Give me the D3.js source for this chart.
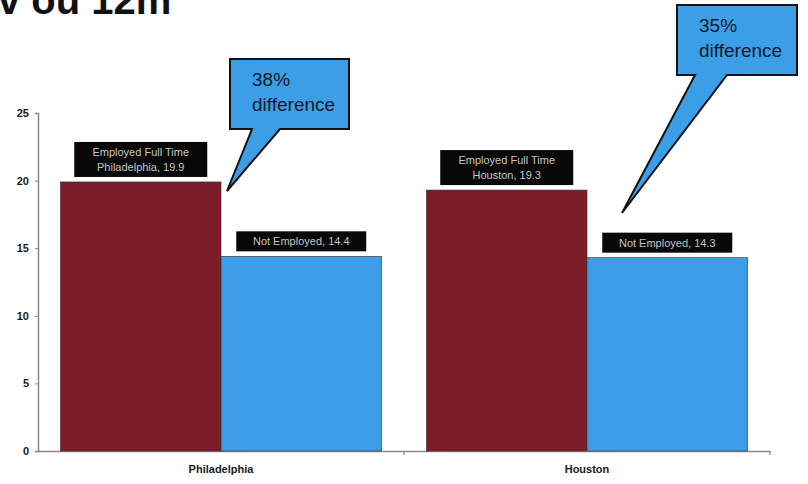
<!DOCTYPE html>
<html>
<head>
<meta charset="utf-8">
<script src="https://cdn.jsdelivr.net/npm/d3@7"></script>
<style>
  html, body { margin: 0; padding: 0; background: #fff; }
  svg { display: block; }
  text { font-family: "Liberation Sans", Arial, sans-serif; }
</style>
</head>
<body>
<svg id="chart" width="808" height="484"></svg>
<script>
// Cities, series and values
const cities = ["Philadelphia", "Houston"];
const seriesNames = ["Employed Full Time", "Not Employed"];
const employedFullTime = [19.9, 19.3];
const notEmployed = [14.4, 14.3];
const yTicks = [0, 5, 10, 15, 20, 25];
const differences = ["38%", "35%"];

const seriesColors = ["#7c1d29", "#3e9de9"];

const svg = d3.select("#chart");

// Title line, mostly above the top edge of the canvas
svg.append("text")
  .attr("x", -2).attr("y", 14)
  .attr("font-size", 40).attr("font-weight", "bold")
  .attr("fill", "#111")
  .text("v ou 12m");

const x0 = d3.scaleBand().domain(cities).range([38, 770]).paddingInner(0).paddingOuter(0);
const x1 = d3.scaleBand().domain(seriesNames).range([0, x0.bandwidth()]).paddingInner(0).paddingOuter(0.14);
const y = d3.scaleLinear().domain([0, 25]).range([451, 113]);

// Axes
const yAxis = svg.append("g").attr("transform", "translate(38,0)")
  .call(d3.axisLeft(y).tickValues(yTicks).tickSize(3).tickPadding(6));
yAxis.select(".domain").attr("stroke", "#888").attr("stroke-width", 1.5);
yAxis.selectAll(".tick line").attr("stroke", "#888");
yAxis.selectAll(".tick text")
  .attr("font-size", 11).attr("font-weight", "900").attr("fill", "#1a1a1a")
  .style("font-family", "'Liberation Sans', Arial, sans-serif");

const xAxis = svg.append("g").attr("transform", "translate(0,451)")
  .call(d3.axisBottom(x0).tickSize(0).tickPadding(14));
xAxis.select(".domain").attr("stroke", "#888").attr("stroke-width", 1.5);
xAxis.selectAll(".tick text")
  .attr("font-size", 11).attr("font-weight", "900").attr("fill", "#1a1a1a")
  .style("font-family", "'Liberation Sans', Arial, sans-serif");
// category separators
const sepX = [x0(cities[1]), x0.range()[1]];
svg.append("g").selectAll("line")
  .data(sepX)
  .join("line")
  .attr("x1", d => d).attr("x2", d => d)
  .attr("y1", 451).attr("y2", 455)
  .attr("stroke", "#888").attr("stroke-width", 1.2);

// Bars
const rows = cities.map((c, i) => ({
  city: c,
  vals: [
    { series: seriesNames[0], value: employedFullTime[i], color: seriesColors[0] },
    { series: seriesNames[1], value: notEmployed[i], color: seriesColors[1] }
  ]
}));

const groups = svg.append("g").selectAll("g")
  .data(rows).join("g")
  .attr("transform", d => `translate(${x0(d.city)},0)`);

groups.selectAll("rect")
  .data(d => d.vals)
  .join("rect")
  .attr("x", d => x1(d.series))
  .attr("y", d => y(d.value))
  .attr("width", x1.bandwidth())
  .attr("height", d => y(0) - y(d.value))
  .attr("fill", d => d.color)
  .attr("stroke", "#3a2a2a").attr("stroke-width", 0.6);

// Data labels in black boxes
groups.each(function (row) {
  const g = d3.select(this);
  row.vals.forEach((v, j) => {
    const cx = x1(v.series) + x1.bandwidth() / 2;
    const lines = j === 0
      ? [v.series, `${row.city}, ${v.value.toFixed(1)}`]
      : [`${v.series}, ${v.value.toFixed(1)}`];
    const lh = 15;
    const h = lines.length * lh + 5;
    const w = j === 0 ? 133 : 130;
    const top = y(v.value) - h - 5;
    g.append("rect")
      .attr("x", cx - w / 2).attr("y", top)
      .attr("width", w).attr("height", h)
      .attr("fill", "#080808");
    lines.forEach((t, k) => {
      g.append("text")
        .attr("x", cx).attr("y", top + 14 + k * lh)
        .attr("text-anchor", "middle")
        .attr("font-size", 11).attr("fill", "#c4c4c4")
        .text(t);
    });
  });
});

// Callouts with the percentage difference
const callouts = [
  { text: differences[0], box: [230, 59, 119, 70], base: [252, 280], tip: [227, 191] },
  { text: differences[1], box: [677, 5, 120, 70], base: [695, 727], tip: [622, 213] }
];
callouts.forEach(c => {
  const [bx, by, bw, bh] = c.box;
  const path = d3.path();
  path.moveTo(bx, by);
  path.lineTo(bx + bw, by);
  path.lineTo(bx + bw, by + bh);
  path.lineTo(c.base[1], by + bh);
  path.lineTo(c.tip[0], c.tip[1]);
  path.lineTo(c.base[0], by + bh);
  path.lineTo(bx, by + bh);
  path.closePath();
  svg.append("path").attr("d", path.toString())
    .attr("fill", "#3b9ee6").attr("stroke", "#111").attr("stroke-width", 2)
    .attr("stroke-linejoin", "miter");
  svg.append("text").attr("x", bx + 22).attr("y", by + 27)
    .attr("font-size", 19).attr("fill", "#101a2c").text(c.text);
  svg.append("text").attr("x", bx + 22).attr("y", by + 52)
    .attr("font-size", 19).attr("fill", "#101a2c").text("difference");
});
</script>
</body>
</html>
